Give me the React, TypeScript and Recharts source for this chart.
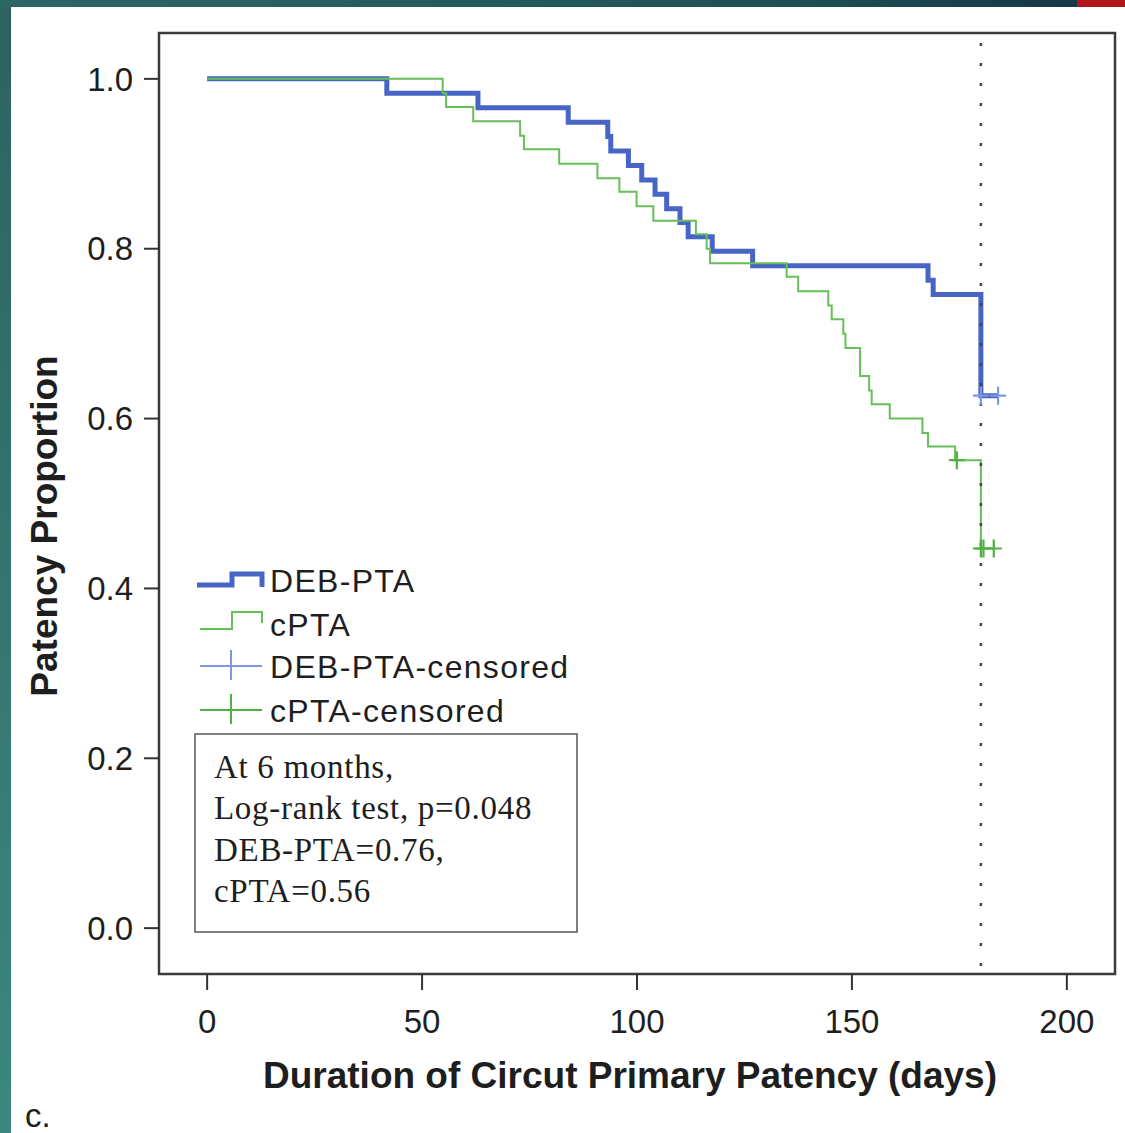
import { ComposedChart, Line, Scatter, XAxis, YAxis, ReferenceLine, ReferenceArea } from "recharts";

const xTicks = [0, 50, 100, 150, 200];
const yTicks = [0, 0.2, 0.4, 0.6, 0.8, 1.0];

// Kaplan-Meier steps
const debDays = [0, 41.8, 63.0, 84.0, 93.2, 93.9, 98.0, 101.1, 104.2, 106.9, 110.0, 111.9, 117.5, 126.9, 167.7, 168.9, 180, 184];
const debSurv = [1.0, 0.983, 0.966, 0.949, 0.932, 0.915, 0.898, 0.881, 0.864, 0.847, 0.831, 0.814, 0.797, 0.78, 0.763, 0.746, 0.627, 0.627];

const cptaDays = [0, 54.8, 55.6, 61.9, 72.8, 73.7, 81.9, 90.8, 95.9, 99.9, 103.8, 113.7, 116.2, 117.0, 134.8, 137.5, 144.5, 145.3, 148.0, 148.5, 151.9, 154.0, 154.6, 158.8, 166.4, 167.7, 174.0, 180, 183];
const cptaSurv = [1.0, 0.983, 0.967, 0.95, 0.933, 0.917, 0.9, 0.883, 0.867, 0.85, 0.833, 0.817, 0.8, 0.783, 0.767, 0.75, 0.733, 0.717, 0.7, 0.683, 0.65, 0.633, 0.617, 0.6, 0.583, 0.567, 0.551, 0.447, 0.447];

const debCensorDays = [180, 184];
const debCensorSurv = [0.627, 0.627];
const cptaCensorDays = [174.4, 180, 180.6, 183];
const cptaCensorSurv = [0.551, 0.447, 0.447, 0.447];

const legendLabels = ["DEB-PTA", "cPTA", "DEB-PTA-censored", "cPTA-censored"];
const noteLines = ["At 6 months,", "Log-rank test, p=0.048", "DEB-PTA=0.76,", "cPTA=0.56"];

const xDomain = [-11.2, 211.2];
const yDomain = [-0.054, 1.054];

const BLUE = "#4665c4";
const BLUE_LIGHT = "#7b98e0";
const GREEN = "#66bf58";
const GREEN_DARK = "#4fb043";
const INK = "#1e1e1e";
const SANS = "'Liberation Sans', Arial, Helvetica, sans-serif";
const SERIF = "'Liberation Serif', 'Times New Roman', serif";

const zip = (t: number[], s: number[]) => t.map((d, i) => ({ t: d, s: s[i] }));

const debData = zip(debDays, debSurv);
const cptaData = zip(cptaDays, cptaSurv);
const debCensored = zip(debCensorDays, debCensorSurv);
const cptaCensored = zip(cptaCensorDays, cptaCensorSurv);

const cross = (color: string) => (props: any) => {
  const { cx, cy } = props;
  return (
    <path
      d={`M${cx - 8},${cy}H${cx + 8}M${cx},${cy - 9}V${cy + 9}`}
      stroke={color}
      strokeWidth={2.2}
      fill="none"
    />
  );
};

export default function App() {
  const legendY = [580, 624, 666, 710];
  return (
    <div style={{ position: "fixed", left: 0, top: 0, width: 1125, height: 1133, background: "#fff", overflow: "hidden" }}>
      <div style={{ position: "absolute", left: 0, top: 0, width: 11, height: 1133, background: "linear-gradient(#2c625f, #3c887c)" }} />
      <div style={{ position: "absolute", left: 0, top: 0, width: 1077, height: 7, background: "linear-gradient(90deg, #2d6664, #1f5258 70%, #163848)" }} />
      <div style={{ position: "absolute", left: 1077, top: 0, width: 48, height: 7, background: "#b3161b" }} />

      <div style={{ position: "absolute", left: 0, top: 0 }}>
        <ComposedChart width={1125} height={1133} margin={{ top: 33, right: 10, bottom: 99, left: 59 }}>
          <XAxis
            type="number"
            dataKey="t"
            domain={xDomain}
            ticks={xTicks}
            allowDataOverflow
            axisLine={false}
            tickLine={{ stroke: "#333", strokeWidth: 2 }}
            tickSize={16}
            tickMargin={20}
            height={60}
            tick={{ fontSize: 33, fill: INK, fontFamily: SANS }}
          />
          <YAxis
            type="number"
            dataKey="s"
            domain={yDomain}
            ticks={yTicks}
            allowDataOverflow
            axisLine={false}
            tickLine={{ stroke: "#333", strokeWidth: 2 }}
            tickSize={15}
            tickMargin={11}
            width={100}
            tickFormatter={(v: number) => v.toFixed(1)}
            tick={{ fontSize: 33, fill: INK, fontFamily: SANS }}
          />
          <ReferenceArea x1={xDomain[0]} x2={xDomain[1]} y1={yDomain[0]} y2={yDomain[1]} fill="none" stroke="#3a3a3a" strokeWidth={2.5} />
          <Line data={debData} dataKey="s" type="stepAfter" stroke={BLUE} strokeWidth={5} dot={false} isAnimationActive={false} />
          <Line data={cptaData} dataKey="s" type="stepAfter" stroke={GREEN} strokeWidth={2} dot={false} isAnimationActive={false} />
          <Scatter data={debCensored} dataKey="s" shape={cross(BLUE_LIGHT)} isAnimationActive={false} />
          <Scatter data={cptaCensored} dataKey="s" shape={cross(GREEN_DARK)} isAnimationActive={false} />
          <ReferenceLine x={180} stroke="#444" strokeWidth={2.5} strokeDasharray="3 17" strokeDashoffset={-8} />
        </ComposedChart>
      </div>

      <svg width={1125} height={1133} style={{ position: "absolute", left: 0, top: 0, pointerEvents: "none" }}>
        <text transform="translate(57,526) rotate(-90)" textAnchor="middle" fontFamily={SANS} fontWeight="bold" fontSize={37} fill={INK}>
          Patency Proportion
        </text>
        <text x={630} y={1088} textAnchor="middle" fontFamily={SANS} fontWeight="bold" fontSize={37} fill={INK}>
          Duration of Circut Primary Patency (days)
        </text>
        <text x={25} y={1127} fontFamily={SANS} fontSize={33} fill={INK}>c.</text>

        {/* legend */}
        <path d={`M197,${legendY[0] + 5}H232V${legendY[0] - 6}H262V${legendY[0] + 7}`} stroke={BLUE} strokeWidth={5} fill="none" />
        <path d={`M200,${legendY[1] + 5}H232V${legendY[1] - 12}H262V${legendY[1] - 1}`} stroke={GREEN} strokeWidth={2} fill="none" />
        <path d={`M200,${legendY[2]}H262M231,${legendY[2] - 16}V${legendY[2] + 14}`} stroke={BLUE_LIGHT} strokeWidth={2} fill="none" />
        <path d={`M200,${legendY[3]}H262M231,${legendY[3] - 16}V${legendY[3] + 14}`} stroke={GREEN_DARK} strokeWidth={2} fill="none" />
        {legendLabels.map((l, i) => (
          <text key={l} x={270} y={legendY[i] + 12} fontFamily={SANS} fontSize={32} letterSpacing={1.3} fill={INK}>
            {l}
          </text>
        ))}

        {/* note box */}
        <rect x={195} y={734} width={382} height={198} fill="#fff" stroke="#555" strokeWidth={1.5} />
        {noteLines.map((l, i) => (
          <text key={l} x={214} y={778 + i * 41.3} fontFamily={SERIF} fontSize={33} letterSpacing={0.7} fill={INK}>
            {l}
          </text>
        ))}
      </svg>
    </div>
  );
}
